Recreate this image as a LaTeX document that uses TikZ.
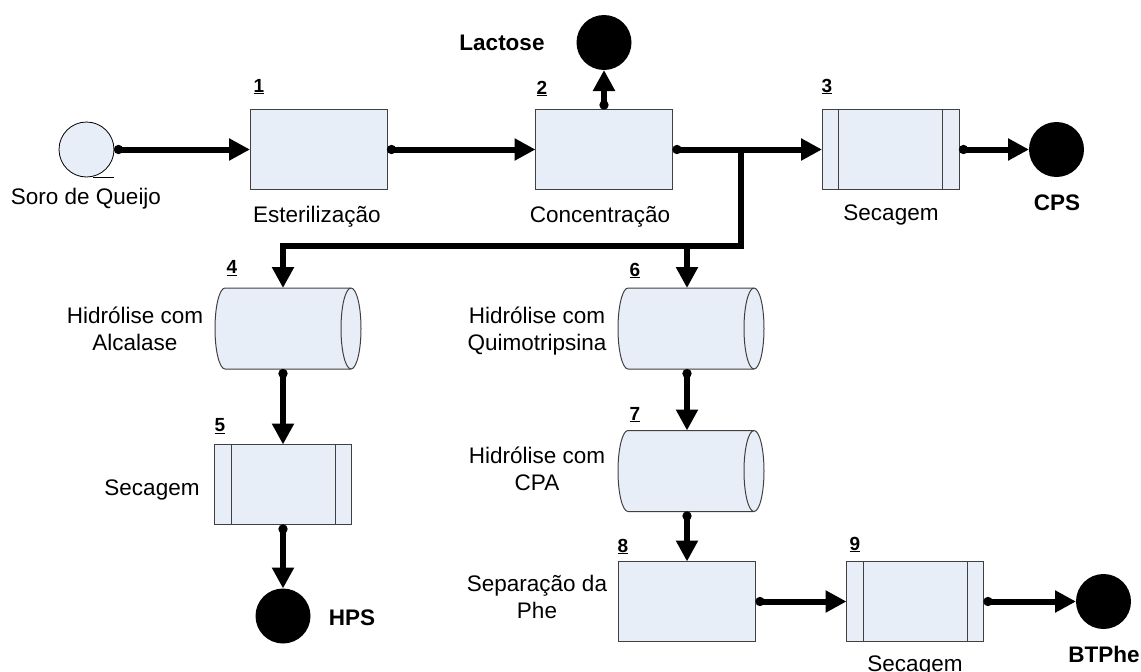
\documentclass[tikz,border=0pt]{standalone}
\usepackage{fontspec}
\setmainfont{Liberation Sans}
\usetikzlibrary{arrows.meta}
\definecolor{boxfill}{HTML}{E8EEF7}
\definecolor{boxline}{HTML}{404040}
\begin{document}
\begin{tikzpicture}[x=1pt,y=-1pt,
 lbl/.style={font=\fontsize{22.5}{27}\selectfont, inner sep=0pt, anchor=base},
 mlbl/.style={font=\fontsize{22.5}{27}\selectfont, inner sep=0pt, align=center},
 blbl/.style={font=\fontsize{22.5}{27}\selectfont\bfseries, inner sep=0pt, anchor=base},
 numlbl/.style={font=\fontsize{19}{22}\selectfont\bfseries, inner sep=0pt, anchor=base},
 proc/.style={draw=boxline, fill=boxfill, line width=1pt, minimum width=137pt, minimum height=80pt, inner sep=0pt, outer sep=0pt},
 dryer/.style={proc, path picture={
   \draw[boxline, line width=1pt] ([xshift=16.5pt]path picture bounding box.north west) -- ([xshift=16.5pt]path picture bounding box.south west);
   \draw[boxline, line width=1pt] ([xshift=-16.5pt]path picture bounding box.north east) -- ([xshift=-16.5pt]path picture bounding box.south east);}},
 cylbody/.style={minimum width=126pt, minimum height=81pt, inner sep=0pt, outer sep=0pt},
 feed/.style={circle, draw=black, fill=boxfill, line width=0.8pt, minimum size=55pt, inner sep=0pt, outer sep=0pt},
 product/.style={circle, fill=black, minimum size=55pt, inner sep=0pt, outer sep=0pt},
 flow/.style={draw=black, line width=6pt, -{Triangle[length=21pt,width=21pt]}},
 dotflow/.style={flow, {Circle[length=9pt]}-{Triangle[length=21pt,width=21pt]}},
 cylline/.style={draw=boxline, line width=1pt}
]
\useasboundingbox (0,0) rectangle (1141,672);

% process units
\node[feed] (src) at (86.5,149.5) {};
\node[proc] (b1) at (318.5,149.5) {};
\node[proc] (b2) at (604,149.5) {};
\node[dryer] (b3) at (890.5,149.5) {};
\node[product] (lac) at (604,42.5) {};
\node[product] (cps) at (1056.5,149.5) {};
\node[cylbody] (c4) at (288,328.5) {};
\node[dryer] (b5) at (283,484.5) {};
\node[product] (hps) at (283,616) {};
\node[cylbody] (c6) at (691,328.5) {};
\node[cylbody] (c7) at (691,471) {};
\node[proc] (b8) at (687,601.5) {};
\node[dryer] (b9) at (915,601.5) {};
\node[product] (btp) at (1103.5,601.5) {};

% feed tail
\draw[black, line width=0.8pt] (src.south) ++(6.5,0) -- (src.south -| src.east);

% cylinders
\foreach \c in {c4,c6,c7}{
  \filldraw[fill=boxfill, cylline]
    (\c.north west) -- (\c.north east)
    arc[start angle=90, end angle=-90, x radius=10pt, y radius=40.5pt]
    -- (\c.south west)
    arc[start angle=270, end angle=90, x radius=10pt, y radius=40.5pt] -- cycle;
  \draw[cylline] (\c.north east) arc[start angle=90, end angle=270, x radius=10pt, y radius=40.5pt];
}

% connectors
\coordinate (j1) at (741,149.5);
\coordinate (j2) at (741,246);
\coordinate (j3) at (283,246);
\coordinate (j4) at (687,246);
\draw[dotflow] (src.east) -- (b1.west);
\draw[dotflow] (b1.east) -- (b2.west);
\draw[dotflow] (b2.north) -- (lac.south);
\draw[dotflow] (b2.east) -- (b3.west);
\draw[dotflow] (b3.east) -- (cps.west);
\draw[flow] (j1) -- (j2) -- (j3) -- (c4.north -| j3);
\draw[flow] (j4) -- (c6.north -| j4);
\draw[dotflow] (c4.south -| b5.north) -- (b5.north);
\draw[dotflow] (b5.south) -- (hps.north);
\draw[dotflow] (c6.south -| j4) -- (c7.north -| j4);
\draw[dotflow] (c7.south -| b8.north) -- (b8.north);
\draw[dotflow] (b8.east) -- (b9.west);
\draw[dotflow] (b9.east) -- (btp.west);

% numbers
\node[numlbl] (n1) at (259,92) {\underline{1}};
\node[numlbl] (n2) at (542,94) {\underline{2}};
\node[numlbl] (n3) at (827,92) {\underline{3}};
\node[numlbl] (n4) at (232,273.5) {\underline{4}};
\node[numlbl] (n5) at (220,431.5) {\underline{5}};
\node[numlbl] (n6) at (635,276) {\underline{6}};
\node[numlbl] (n7) at (635,420) {\underline{7}};
\node[numlbl] (n8) at (623,552) {\underline{8}};
\node[numlbl] (n9) at (855,550) {\underline{9}};

% labels
\node[lbl] (t0) at (86,204) {Soro de Queijo};
\node[lbl] (t1) at (317,222) {Esterilização};
\node[lbl] (t2) at (600,222) {Concentração};
\node[lbl] (t3) at (891,220) {Secagem};
\node[blbl] (tlac) at (502,50) {Lactose};
\node[blbl] (tcps) at (1057,210) {CPS};
\node[mlbl] (t4) at (135,329) {Hidrólise com\\Alcalase};
\node[lbl] (t5) at (152,495) {Secagem};
\node[blbl] (thps) at (352,625) {HPS};
\node[mlbl] (t6) at (537,331.5) {Hidrólise com\\Quimotripsina};
\node[mlbl] (t7) at (537,469) {Hidrólise com\\CPA};
\node[mlbl] (t8) at (537,597) {Separação da\\Phe};
\node[lbl] (t9) at (915,671) {Secagem};
\node[blbl] (tbtp) at (1104,662) {BTPhe};
\end{tikzpicture}
\end{document}
